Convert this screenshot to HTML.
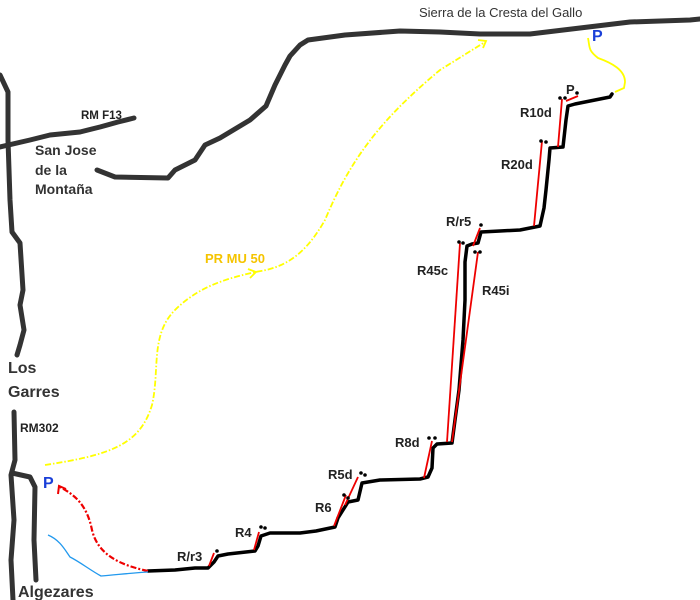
<!DOCTYPE html>
<html><head><meta charset="utf-8"><style>
html,body{margin:0;padding:0;background:#fff;}
svg{display:block;}
text{font-family:"Liberation Sans",sans-serif;}
</style></head><body>
<svg width="700" height="600" viewBox="0 0 700 600" xmlns="http://www.w3.org/2000/svg">
<g fill="none" stroke="#333" stroke-width="5" stroke-linecap="round" stroke-linejoin="round">
<path d="M0,75 L8,92 L8,140 L10,200 L12,232 L20,243 L23,290 L20,305 L24,330 L20,345 L17,355"/>
<path d="M14,412 L15,460 L11,475 L14,520 L11,560 L13,600"/>
<path d="M12,473 L30,477 L35,487 L34,540 L36,580"/>
<path d="M0,147 L30,140 L50,135 L80,132 L100,127 L118,122 L134,118"/>
<path d="M97,170 L115,177 L168,178 L175,170 L195,160 L205,145 L220,138 L250,120 L266,106 L275,85 L285,65 L290,56 L300,45 L308,40 L345,35 L400,31 L440,32 L480,34 L530,34 L580,28 L630,22 L690,20 L700,19"/>
</g>
<g fill="none" stroke="#000" stroke-width="3.5" stroke-linecap="round" stroke-linejoin="round">
<path d="M148,571 L175,570 L195,568 L208,568 L214,562 L218,556 L228,554 L255,551 L258,546 L261,536 L270,533 L300,533 L316,531 L335,527 L338,518 L343,510 L348,502 L358,500 L362,483 L380,480 L420,479 L428,477 L432,468 L433,448 L437,444 L452,443 L455,420 L459,390 L463,340 L465,300 L465,262 L467,246 L472,244 L478,243 L481,232 L500,231 L520,230 L540,226 L544,208 L546,190 L549,160 L550,148 L563,147 L566,120 L568,106 L575,104 L610,97 L612,94"/>
</g>
<g stroke="#e00" stroke-width="1.8" fill="none">
<path d="M209,566 L214,553"/>
<path d="M254,550 L259,532"/>
<path d="M334,526 L346,495"/>
<path d="M345,505 L358,477"/>
<path d="M424,478 L432,441"/>
<path d="M447,442 L460,243"/>
<path d="M452,442 L478,252"/>
<path d="M473,246 L480,228"/>
<path d="M534,226 L542,141"/>
<path d="M558,147 L562,99"/>
<path d="M566,101 L578,96"/>
</g>
<g fill="#000">
<circle cx="217" cy="551" r="1.8"/>
<circle cx="261" cy="527" r="1.8"/><circle cx="265" cy="528" r="1.8"/>
<circle cx="344" cy="495" r="1.8"/><circle cx="348" cy="498" r="1.8"/>
<circle cx="361" cy="473" r="1.8"/><circle cx="365" cy="475" r="1.8"/>
<circle cx="429" cy="438" r="1.8"/><circle cx="435" cy="438" r="1.8"/>
<circle cx="459" cy="242" r="1.8"/><circle cx="463" cy="243" r="1.8"/>
<circle cx="475" cy="252" r="1.8"/><circle cx="480" cy="252" r="1.8"/>
<circle cx="481" cy="225" r="1.8"/>
<circle cx="541" cy="141" r="1.8"/><circle cx="546" cy="142" r="1.8"/>
<circle cx="560" cy="98" r="1.8"/><circle cx="565" cy="98" r="1.8"/>
<circle cx="577" cy="93" r="1.8"/>
</g>
<g fill="none" stroke="#ff0" stroke-width="1.8" stroke-dasharray="6,2,1.5,2">
<path d="M45,465 C110,455 140,445 152,405 C160,370 150,335 175,310 C200,285 230,278 255,272 C285,268 305,255 325,220 C350,160 380,120 440,70 L485,42"/>
</g>
<path d="M478,40 L486,41 L483,48" fill="none" stroke="#ff0" stroke-width="1.8"/>
<path d="M248,269 L256,272 L250,278" fill="none" stroke="#ff0" stroke-width="1.8"/>
<path d="M588,38 C590,48 588,50 598,58 C612,63 625,70 625,82 L624,88 L615,92" fill="none" stroke="#ff0" stroke-width="1.8"/>
<path d="M148,571 C120,565 98,555 92,530 C87,505 75,495 60,487" fill="none" stroke="#e00" stroke-width="2.2" stroke-dasharray="6,2,2,2"/>
<path d="M58,494 L59,486 L66,489" fill="none" stroke="#e00" stroke-width="2"/>
<path d="M48,535 C60,540 65,550 70,557 C80,562 90,570 101,576 C115,575 130,573 148,572" fill="none" stroke="#29e" stroke-width="1.3"/>
<g font-weight="bold" fill="#222">
<text x="419" y="17" font-size="13" font-weight="normal" fill="#333">Sierra de la Cresta del Gallo</text>
<text x="81" y="119" font-size="11.5">RM F13</text>
<text x="35" y="155" font-size="14" fill="#333">San Jose</text>
<text x="35" y="175" font-size="14" fill="#333">de la</text>
<text x="35" y="194" font-size="14" fill="#333">Montaña</text>
<text x="8" y="373" font-size="16" fill="#333">Los</text>
<text x="8" y="397" font-size="16" fill="#333">Garres</text>
<text x="20" y="432" font-size="12">RM302</text>
<text x="18" y="597" font-size="16" fill="#333">Algezares</text>
<text x="205" y="263" font-size="13" fill="#f5c400">PR MU 50</text>
<text x="43" y="488" font-size="16" fill="#1a3fd8">P</text>
<text x="592" y="41" font-size="16" fill="#1a3fd8">P</text>
<text x="566" y="94" font-size="13">P</text>
<text x="520" y="117" font-size="13">R10d</text>
<text x="501" y="169" font-size="13">R20d</text>
<text x="446" y="226" font-size="13">R/r5</text>
<text x="417" y="275" font-size="13">R45c</text>
<text x="482" y="295" font-size="13">R45i</text>
<text x="395" y="447" font-size="13">R8d</text>
<text x="328" y="479" font-size="13">R5d</text>
<text x="315" y="512" font-size="13">R6</text>
<text x="235" y="537" font-size="13">R4</text>
<text x="177" y="561" font-size="13">R/r3</text>
</g>
</svg>
</body></html>
